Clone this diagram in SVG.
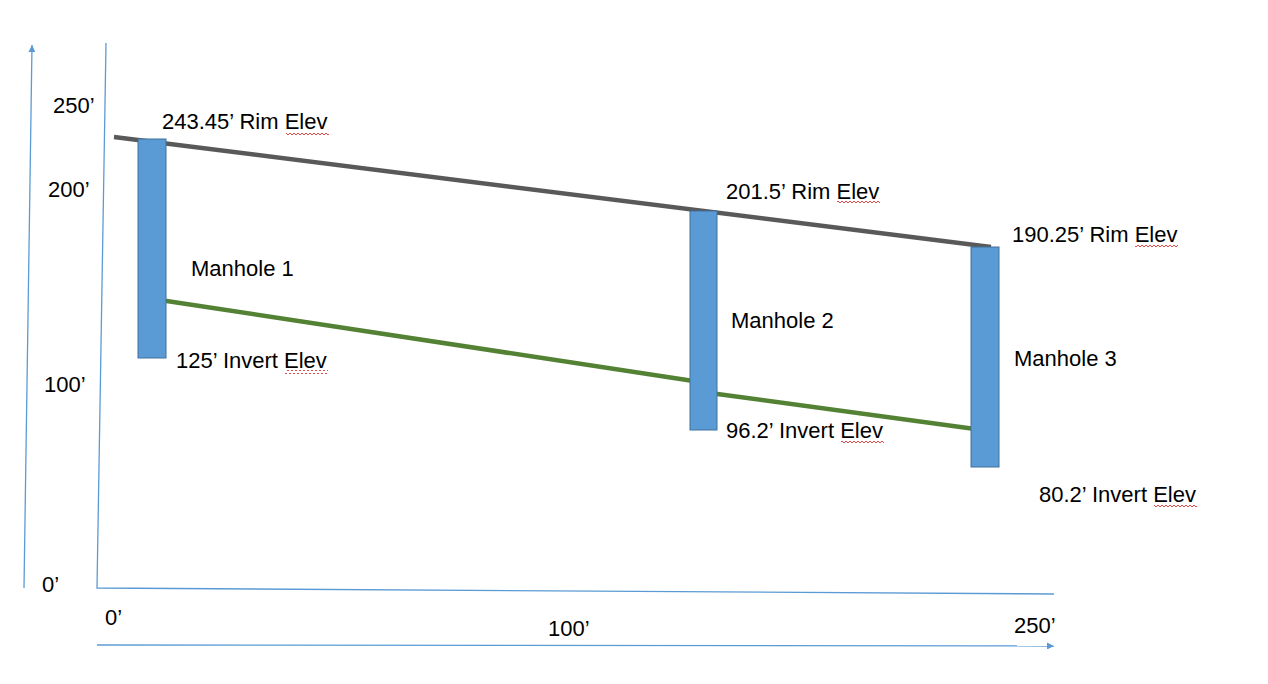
<svg xmlns="http://www.w3.org/2000/svg" width="1268" height="684" viewBox="0 0 1268 684">
<style>
text{font-family:"Liberation Sans",Arial,sans-serif;font-size:22px;fill:#000}
.axis{stroke:#5B9BD5;stroke-width:1.3;fill:none}
.mh{fill:#5B9BD5;stroke:#41719C;stroke-width:1}
.rim{stroke:#595959;stroke-width:4.5;fill:none}
.inv{stroke:#548235;stroke-width:4.5;fill:none}
</style>
<defs>
<marker id="arr" viewBox="0 0 10 10" refX="10" refY="5" markerWidth="7" markerHeight="7" markerUnits="userSpaceOnUse" orient="auto">
<path d="M0,0 L10,5 L0,10 Z" fill="#5B9BD5"/>
</marker>
<pattern id="sq" patternUnits="userSpaceOnUse" width="4" height="4">
<path d="M0,3 L2,1 L4,3" stroke="#E01B1B" stroke-width="0.8" fill="none"/>
</pattern>
</defs>
<rect width="1268" height="684" fill="#fff"/>
<g id="axes">
<path class="axis" d="M24,588 L32,45" marker-end="url(#arr)"/>
<path class="axis" d="M106,43 L97,588 L1054,594"/>
<path class="axis" d="M97,645 L1054,646" marker-end="url(#arr)"/>
<text x="53" y="113">250’</text>
<text x="48" y="197">200’</text>
<text x="44" y="392">100’</text>
<text x="42" y="592">0’</text>
<text x="105" y="625">0’</text>
<text x="548" y="636">100’</text>
<text x="1014" y="633">250’</text>
</g>
<g id="connectors">
<path class="rim" d="M114,137 L991,247"/>
<path class="inv" d="M160,300 L700,382"/>
<path class="inv" d="M710,393 L975,429"/>
</g>
<g id="manhole1">
<rect class="mh" x="138" y="139" width="28" height="219"/>
<text x="162" y="129">243.45’ Rim Elev</text>
<text x="191" y="276">Manhole 1</text>
<text x="176" y="368">125’ Invert Elev</text>
<rect x="286" y="131" width="43" height="4" fill="url(#sq)"/>
<rect x="285" y="370" width="43" height="4" fill="url(#sq)"/>
</g>
<g id="manhole2">
<rect class="mh" x="690" y="211" width="27" height="219"/>
<text x="726" y="199">201.5’ Rim Elev</text>
<text x="731" y="328">Manhole 2</text>
<text x="726" y="438">96.2’ Invert Elev</text>
<rect x="837" y="201" width="43" height="4" fill="url(#sq)"/>
<rect x="841" y="440" width="43" height="4" fill="url(#sq)"/>
</g>
<g id="manhole3">
<rect class="mh" x="971" y="247" width="28" height="220"/>
<text x="1012" y="242">190.25’ Rim Elev</text>
<text x="1014" y="366">Manhole 3</text>
<text x="1039" y="502">80.2’ Invert Elev</text>
<rect x="1135" y="244" width="43" height="4" fill="url(#sq)"/>
<rect x="1154" y="504" width="43" height="4" fill="url(#sq)"/>
</g>
</svg>
